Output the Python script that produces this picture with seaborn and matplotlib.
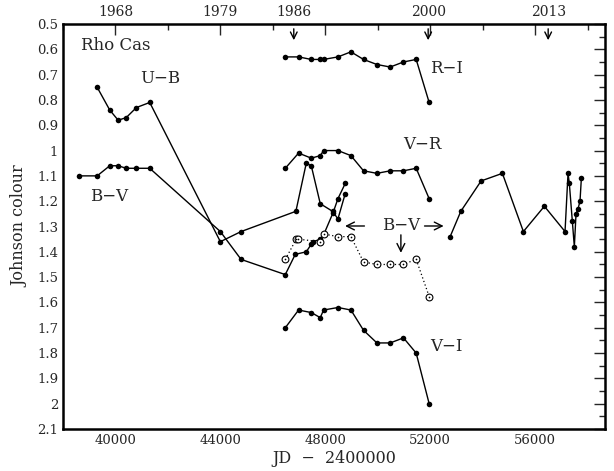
import matplotlib
matplotlib.use("Agg")
import matplotlib.pyplot as plt
import seaborn as sns
import pandas as pd
from matplotlib.ticker import MultipleLocator, FuncFormatter

# ---------------- data ----------------
jd_rvi = [46476, 46983, 47467, 47810, 47936, 48484, 48979, 49459, 49970, 50476, 50983, 51467, 51962]
r_i = [0.63, 0.63, 0.64, 0.64, 0.64, 0.63, 0.61, 0.64, 0.66, 0.67, 0.65, 0.64, 0.81]
v_r = [1.07, 1.01, 1.03, 1.02, 1.00, 1.00, 1.02, 1.08, 1.09, 1.08, 1.08, 1.07, 1.19]
v_i = [1.70, 1.63, 1.64, 1.66, 1.63, 1.62, 1.63, 1.71, 1.76, 1.76, 1.74, 1.80, 2.00]

jd_ub = [39303, 39783, 40103, 40408, 40800, 41307, 44000, 44790, 46880, 47276, 47467, 47810, 48278, 48484, 48762]
u_b = [0.75, 0.84, 0.88, 0.87, 0.83, 0.81, 1.36, 1.32, 1.24, 1.05, 1.06, 1.21, 1.24, 1.27, 1.17]

jd_bv1 = [38602, 39303, 39783, 40103, 40408, 40800, 41307, 44000, 44790, 46476, 46857, 47276, 47467,
          47540, 47810, 47950, 48300, 48484, 48762]
b_v1 = [1.10, 1.10, 1.06, 1.06, 1.07, 1.07, 1.07, 1.32, 1.43, 1.49, 1.41, 1.40, 1.37,
        1.36, 1.35, 1.33, 1.245, 1.19, 1.13]

jd_bv2 = [52762, 53169, 53943, 54754, 55555, 56355, 57143, 57257, 57307, 57422, 57498, 57562, 57638, 57714, 57765]
b_v2 = [1.34, 1.24, 1.12, 1.09, 1.32, 1.22, 1.32, 1.09, 1.13, 1.28, 1.38, 1.25, 1.23, 1.20, 1.11]

jd_bvo = [46476, 46895, 46960, 47810, 47962, 48484, 48979, 49459, 49970, 50450, 50960, 51467, 51974]
b_vo = [1.43, 1.35, 1.35, 1.36, 1.33, 1.34, 1.34, 1.44, 1.45, 1.45, 1.45, 1.43, 1.58]

years = ["1968", "1979", "1986", "2000", "2013"]
year_jd = [40000, 44000, 46800, 51924, 56500]
arrow_jd = [46800, 51924, 56500]

# ---------------- plot ----------------
sns.set_style("white")
plt.rcParams["font.family"] = ["DejaVu Serif"]
plt.rcParams["mathtext.fontset"] = "dejavuserif"

fig = plt.figure(figsize=(6.14, 4.71), dpi=100)
ax = fig.add_axes([63 / 614, 1 - 429 / 471, (605 - 63) / 614, (429 - 24) / 471])

dot = dict(marker="o", markersize=4, markeredgewidth=0, color="black",
           linewidth=1.0, sort=False, estimator=None, ax=ax)

for xs, ys in [(jd_rvi, r_i), (jd_rvi, v_r), (jd_rvi, v_i), (jd_ub, u_b),
               (jd_bv1, b_v1), (jd_bv2, b_v2)]:
    df = pd.DataFrame({"jd": xs, "c": ys})
    sns.lineplot(data=df, x="jd", y="c", **dot)

dfo = pd.DataFrame({"jd": jd_bvo, "c": b_vo})
sns.lineplot(data=dfo, x="jd", y="c", sort=False, estimator=None, color="black",
             linewidth=0.9, linestyle=(0, (1, 2)), ax=ax)
sns.scatterplot(data=dfo, x="jd", y="c", marker="o", s=24, facecolor="white",
                edgecolor="black", linewidth=0.8, ax=ax, zorder=3)
sns.scatterplot(data=dfo, x="jd", y="c", marker="o", s=1.5, color="black",
                linewidth=0, ax=ax, zorder=4)

ax.set_xlim(38000, 58667)
ax.set_ylim(2.1, 0.5)

ax.xaxis.set_major_locator(MultipleLocator(4000))
ax.xaxis.set_minor_locator(MultipleLocator(2000))
ax.yaxis.set_major_locator(MultipleLocator(0.1))
ax.yaxis.set_minor_locator(MultipleLocator(0.05))
ax.yaxis.set_major_formatter(FuncFormatter(lambda v, p: f"{round(v, 2):g}"))
ax.xaxis.set_major_formatter(FuncFormatter(lambda v, p: f"{int(round(v))}"))

ax.tick_params(which="both", direction="in", top=True, right=True, labelsize=9.5)
ax.tick_params(which="major", length=8, width=1)
ax.tick_params(which="minor", length=4, width=1)
for s in ax.spines.values():
    s.set_linewidth(1.8)
    s.set_color("black")

ax.set_xlabel("JD  \u2212  2400000", fontsize=11.5, labelpad=2)
ax.set_ylabel("Johnson colour", fontsize=11.5, labelpad=6)

# year labels on top
tr = ax.get_xaxis_transform()
for yl, xj in zip(years, year_jd):
    ax.text(xj, 1.03, yl, transform=tr, ha="center", va="center", fontsize=10)
for xj in arrow_jd:
    ax.annotate("", xy=(xj, 0.575), xytext=(xj, 0.508),
                arrowprops=dict(arrowstyle="->", color="black", lw=1.0, mutation_scale=12))

# labels
fs = 12
ax.text(38700, 0.585, "Rho Cas", fontsize=fs, va="center", ha="left")
ax.text(40950, 0.715, "U\u2212B", fontsize=fs, va="center", ha="left")
ax.text(39050, 1.18, "B\u2212V", fontsize=fs, va="center", ha="left")
ax.text(52000, 0.675, "R\u2212I", fontsize=fs, va="center", ha="left")
ax.text(50970, 0.975, "V\u2212R", fontsize=fs, va="center", ha="left")
ax.text(52000, 1.775, "V\u2212I", fontsize=fs, va="center", ha="left")
ax.text(50900, 1.298, "B\u2212V", fontsize=fs, va="center", ha="center")
ax.annotate("", xy=(48650, 1.298), xytext=(49600, 1.298),
            arrowprops=dict(arrowstyle="->", color="black", lw=1.0, mutation_scale=14))
ax.annotate("", xy=(52620, 1.298), xytext=(51680, 1.298),
            arrowprops=dict(arrowstyle="->", color="black", lw=1.0, mutation_scale=14))
ax.annotate("", xy=(50884, 1.415), xytext=(50884, 1.322),
            arrowprops=dict(arrowstyle="->", color="black", lw=1.0, mutation_scale=14))

fig.savefig("out.png", dpi=100)
